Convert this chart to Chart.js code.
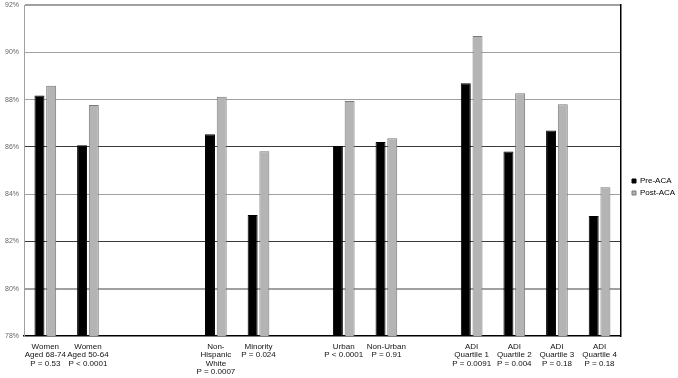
<!doctype html>
<html lang="en">
<head>
  <meta charset="utf-8">
  <title>Pre/Post ACA</title>
  <script src="https://cdn.jsdelivr.net/npm/chart.js@4"></script>
  <style>
    html, body { margin: 0; padding: 0; background: #fff; overflow: hidden; }
    canvas { display: block; }
  </style>
</head>
<body>
  <canvas id="acaChart" width="678" height="378"></canvas>

  <script>
    // Categories (empty slots are gaps between the groups)
    var labels = [
      ['Women', 'Aged 68-74', 'P = 0.53'],
      ['Women', 'Aged 50-64', 'P < 0.0001'],
      '',
      '',
      ['Non-', 'Hispanic', 'White', 'P = 0.0007'],
      ['Minority', 'P = 0.024'],
      '',
      ['Urban', 'P < 0.0001'],
      ['Non-Urban', 'P = 0.91'],
      '',
      ['ADI', 'Quartile 1', 'P = 0.0091'],
      ['ADI', 'Quartile 2', 'P = 0.004'],
      ['ADI', 'Quartile 3', 'P = 0.18'],
      ['ADI', 'Quartile 4', 'P = 0.18']
    ];

    // Values in percent
    var preACA  = [88.17, 86.07, null, null, 86.53, 83.12, null, 86.04, 86.21, null, 88.69, 85.80, 86.69, 83.08];
    var postACA = [88.58, 87.77, null, null, 88.12, 85.81, null, 87.94, 86.36, null, 90.69, 88.27, 87.80, 84.29];

    var yMin = 78;
    var yMax = 92;
    var yStep = 2;

    // gridline look, roughly like the original export
    function gridColor(ctx) {
      var v = ctx.tick ? ctx.tick.value : 0;
      if (v == 78) return 'rgba(0,0,0,0)';
      if (v == 82 || v == 86) return '#3a3a3a';
      return '#a0a0a0';
    }
    function gridWidth(ctx) {
      var v = ctx.tick ? ctx.tick.value : 0;
      if (v == 80 || v == 92) return 2;
      return 1;
    }

    // move the legend block to where the original has it
    const legendSpot = {
      id: 'legendSpot',
      afterLayout(chart) {
        var lg = chart.legend;
        if (!lg) return;
        var w = lg.width;
        lg.left = 628;
        lg.right = 628 + w;
        var dy = -2;
        lg.top += dy;
        lg.bottom += dy;
      }
    };

    var font = "'Liberation Sans', Arial, sans-serif";

    new Chart(document.getElementById('acaChart'), {
      type: 'bar',
      data: {
        labels: labels,
        datasets: [{
          label: 'Pre-ACA',
          data: preACA,
          backgroundColor: '#000000',
          borderColor: '#000000',
          borderWidth: 1,
          barPercentage: 0.85,
          categoryPercentage: 0.55
        }, {
          label: 'Post-ACA',
          data: postACA,
          backgroundColor: '#b4b4b4',
          borderColor: '#7a7a7a',
          borderWidth: 1,
          barPercentage: 0.85,
          categoryPercentage: 0.55
        }]
      },
      plugins: [legendSpot],
      options: {
        responsive: false,
        animation: false,
        devicePixelRatio: 1,
        layout: { padding: { top: 0, right: 0, left: 0, bottom: 0 } },
        plugins: {
          tooltip: { enabled: false },
          legend: {
            position: 'right',
            labels: {
              boxWidth: 4,
              boxHeight: 4,
              padding: 4,
              color: '#000',
              font: { family: font, size: 8 }
            }
          }
        },
        scales: {
          x: {
            grid: { display: false, drawTicks: false },
            border: { color: '#000', width: 1.5 },
            ticks: {
              autoSkip: false,
              maxRotation: 0,
              minRotation: 0,
              padding: 6,
              color: '#111',
              font: { family: font, size: 8, lineHeight: 1.08 }
            },
            afterFit: function(scale) { scale.height = 42; }
          },
          y: {
            min: yMin,
            max: yMax,
            grid: { color: gridColor, lineWidth: gridWidth, drawTicks: false },
            border: { color: '#a0a0a0', width: 1 },
            ticks: {
              stepSize: yStep,
              padding: 5,
              color: '#666',
              font: { family: font, size: 7 },
              callback: function(v) { return v + '%'; }
            },
            afterFit: function(scale) {
              scale.width = 24;
              scale.paddingTop = 5;
              scale.paddingBottom = 5;
            }
          },
          y2: {
            position: 'right',
            min: yMin,
            max: yMax,
            grid: { display: false, drawTicks: false },
            border: { color: '#000', width: 1.5 },
            ticks: { display: false },
            afterFit: function(scale) { scale.width = 0; }
          }
        }
      }
    });
  </script>
</body>
</html>
